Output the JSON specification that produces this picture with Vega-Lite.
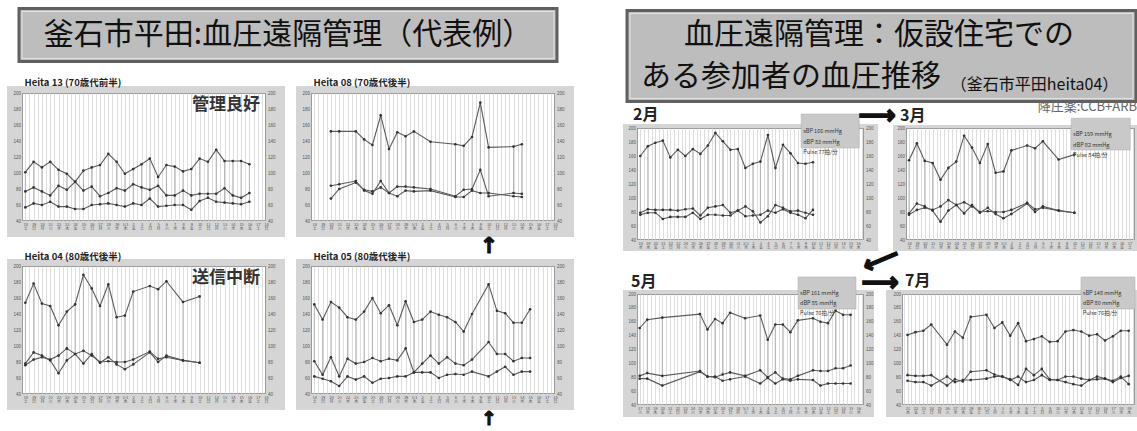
{
  "$schema": "https://vega.github.io/schema/vega-lite/v6.json",
  "background": "white",
  "padding": {"left": 0, "top": 6.5, "right": 0, "bottom": 0},
  "spacing": 15,
  "config": {
    "view": {"stroke": null},
    "font": "Noto Sans CJK JP",
    "axis": {"ticks": false, "domain": false, "grid": false, "labelColor": "#555", "labelPadding": 1.5, "labelOverlap": false, "labelFlush": false, "labelBound": false, "gridColor": "#d0d0d0", "gridWidth": 0.7},
    "axisX": {"labelFontSize": 4, "labelLineHeight": 4.4, "labelFont": "Noto Sans CJK JP", "tickCount": 60},
    "axisY": {"labelFontSize": 4.5, "labelFont": "Liberation Sans"},
    "text": {"font": "Noto Sans CJK JP"}
  },
  "datasets": {
    "h13": [
      {"s":0,"sbp":101,"dbp":57,"pul":77},{"s":1,"sbp":114,"dbp":62,"pul":82},{"s":2,"sbp":107,"dbp":60,"pul":77},
      {"s":3,"sbp":114,"dbp":64,"pul":72},{"s":4,"sbp":104,"dbp":58,"pul":84},{"s":5,"sbp":99,"dbp":58,"pul":79},
      {"s":6,"sbp":89,"dbp":55,"pul":89},{"s":7,"sbp":103,"dbp":55,"pul":78},{"s":8,"sbp":107,"dbp":60,"pul":83},
      {"s":9,"sbp":110,"dbp":61,"pul":71},{"s":10,"sbp":124,"dbp":62,"pul":75},{"s":11,"sbp":114,"dbp":60,"pul":81},
      {"s":12,"sbp":99,"dbp":58,"pul":78},{"s":13,"sbp":105,"dbp":62,"pul":86},{"s":14,"sbp":111,"dbp":60,"pul":82},
      {"s":15,"sbp":118,"dbp":68,"pul":79},{"s":16,"sbp":95,"dbp":58,"pul":84},{"s":17,"sbp":110,"dbp":59,"pul":72},
      {"s":18,"sbp":108,"dbp":60,"pul":72},{"s":19,"sbp":102,"dbp":60,"pul":78},{"s":20,"sbp":105,"dbp":54,"pul":72},
      {"s":21,"sbp":118,"dbp":65,"pul":74},{"s":22,"sbp":114,"dbp":69,"pul":74},{"s":23,"sbp":129,"dbp":64,"pul":74},
      {"s":24,"sbp":115,"dbp":63,"pul":81},{"s":25,"sbp":115,"dbp":62,"pul":72},{"s":26,"sbp":115,"dbp":61,"pul":69},
      {"s":27,"sbp":111,"dbp":64,"pul":75}
    ],
    "h08": [
      {"s":2,"sbp":152,"dbp":84,"pul":68},{"s":3,"sbp":152,"dbp":86,"pul":80},{"s":5,"sbp":152,"dbp":90,"pul":88},
      {"s":6,"sbp":142,"dbp":78,"pul":79},{"s":7,"sbp":135,"dbp":74,"pul":77},{"s":8,"sbp":172,"dbp":90,"pul":82},
      {"s":9,"sbp":130,"dbp":75,"pul":75},{"s":10,"sbp":151,"dbp":83,"pul":71},{"s":11,"sbp":146,"dbp":83,"pul":78},
      {"s":12,"sbp":152,"dbp":82,"pul":77},{"s":14,"sbp":139,"dbp":80,"pul":78},{"s":17,"sbp":136,"dbp":71,"pul":70},
      {"s":18,"sbp":134,"dbp":79,"pul":70},{"s":19,"sbp":145,"dbp":80,"pul":78},{"s":20,"sbp":188,"dbp":104,"pul":75},
      {"s":21,"sbp":132,"dbp":71,"pul":75},{"s":24,"sbp":133,"dbp":75,"pul":71},{"s":25,"sbp":136,"dbp":74,"pul":70}
    ],
    "mar": [
      {"s":0,"sbp":154,"dbp":78,"pul":76},{"s":1,"sbp":178,"dbp":92,"pul":83},{"s":2,"sbp":153,"dbp":88,"pul":86},
      {"s":3,"sbp":150,"dbp":82,"pul":83},{"s":4,"sbp":126,"dbp":66,"pul":88},{"s":5,"sbp":143,"dbp":82,"pul":97},
      {"s":6,"sbp":152,"dbp":90,"pul":90},{"s":7,"sbp":189,"dbp":78,"pul":94},{"s":8,"sbp":172,"dbp":90,"pul":88},
      {"s":9,"sbp":150,"dbp":79,"pul":80},{"s":10,"sbp":177,"dbp":86,"pul":81},{"s":11,"sbp":136,"dbp":77,"pul":80},
      {"s":12,"sbp":138,"dbp":71,"pul":80},{"s":13,"sbp":168,"dbp":77,"pul":83},{"s":15,"sbp":175,"dbp":92,"pul":93},
      {"s":16,"sbp":171,"dbp":80,"pul":84},{"s":17,"sbp":181,"dbp":88,"pul":86},{"s":19,"sbp":155,"dbp":82,"pul":82},
      {"s":21,"sbp":162,"dbp":79,"pul":79}
    ],
    "h05": [
      {"s":0,"sbp":152,"dbp":81,"pul":62},{"s":1,"sbp":133,"dbp":64,"pul":59},{"s":2,"sbp":155,"dbp":86,"pul":56},
      {"s":3,"sbp":148,"dbp":62,"pul":50},{"s":4,"sbp":136,"dbp":84,"pul":62},{"s":5,"sbp":133,"dbp":78,"pul":58},
      {"s":6,"sbp":143,"dbp":80,"pul":62},{"s":7,"sbp":160,"dbp":85,"pul":54},{"s":8,"sbp":141,"dbp":81,"pul":59},
      {"s":9,"sbp":151,"dbp":84,"pul":60},{"s":10,"sbp":126,"dbp":82,"pul":62},{"s":11,"sbp":156,"dbp":97,"pul":62},
      {"s":12,"sbp":130,"dbp":67,"pul":67},{"s":13,"sbp":133,"dbp":78,"pul":67},{"s":14,"sbp":143,"dbp":88,"pul":67},
      {"s":15,"sbp":139,"dbp":78,"pul":60},{"s":16,"sbp":136,"dbp":86,"pul":64},{"s":17,"sbp":130,"dbp":78,"pul":65},
      {"s":18,"sbp":118,"dbp":76,"pul":64},{"s":19,"sbp":140,"dbp":83,"pul":68},{"s":21,"sbp":177,"dbp":105,"pul":62},
      {"s":22,"sbp":144,"dbp":90,"pul":68},{"s":23,"sbp":141,"dbp":90,"pul":74},{"s":24,"sbp":129,"dbp":81,"pul":64},
      {"s":25,"sbp":129,"dbp":85,"pul":68},{"s":26,"sbp":146,"dbp":85,"pul":68}
    ],
    "feb": [
      {"s":0,"sbp":160,"dbp":79,"pul":76},{"s":1,"sbp":174,"dbp":84,"pul":79},{"s":2,"sbp":179,"dbp":83,"pul":79},
      {"s":3,"sbp":182,"dbp":83,"pul":70},{"s":4,"sbp":158,"dbp":83,"pul":73},{"s":5,"sbp":169,"dbp":82,"pul":73},
      {"s":6,"sbp":160,"dbp":84,"pul":73},{"s":7,"sbp":170,"dbp":85,"pul":79},{"s":8,"sbp":163,"dbp":75,"pul":70},
      {"s":9,"sbp":175,"dbp":86,"pul":76},{"s":10,"sbp":193,"dbp":88,"pul":76},{"s":11,"sbp":181,"dbp":90,"pul":75},
      {"s":12,"sbp":169,"dbp":79,"pul":75},{"s":13,"sbp":170,"dbp":82,"pul":82},{"s":14,"sbp":143,"dbp":74,"pul":88},
      {"s":15,"sbp":149,"dbp":75,"pul":81},{"s":16,"sbp":152,"dbp":76,"pul":65},{"s":17,"sbp":190,"dbp":82,"pul":74},
      {"s":18,"sbp":143,"dbp":79,"pul":90},{"s":19,"sbp":176,"dbp":84,"pul":86},{"s":20,"sbp":164,"dbp":79,"pul":81},
      {"s":21,"sbp":150,"dbp":76,"pul":82},{"s":22,"sbp":149,"dbp":71,"pul":79},{"s":23,"sbp":151,"dbp":83,"pul":76}
    ],
    "may": [
      {"s":0,"sbp":151,"dbp":82,"pul":78},{"s":1,"sbp":163,"dbp":86,"pul":78},{"s":3,"sbp":166,"dbp":82,"pul":68},
      {"s":8,"sbp":171,"dbp":89,"pul":88},{"s":9,"sbp":149,"dbp":81,"pul":81},{"s":10,"sbp":164,"dbp":80,"pul":81},
      {"s":11,"sbp":158,"dbp":84,"pul":75},{"s":12,"sbp":173,"dbp":87,"pul":77},{"s":14,"sbp":165,"dbp":82,"pul":81},
      {"s":16,"sbp":169,"dbp":90,"pul":71},{"s":17,"sbp":134,"dbp":80,"pul":79},{"s":18,"sbp":156,"dbp":87,"pul":71},
      {"s":19,"sbp":156,"dbp":78,"pul":77},{"s":20,"sbp":145,"dbp":77,"pul":75},{"s":21,"sbp":162,"dbp":82,"pul":77},
      {"s":23,"sbp":165,"dbp":90,"pul":76},{"s":24,"sbp":160,"dbp":89,"pul":68},{"s":25,"sbp":158,"dbp":89,"pul":71},
      {"s":26,"sbp":176,"dbp":93,"pul":71},{"s":27,"sbp":170,"dbp":93,"pul":71},{"s":28,"sbp":170,"dbp":97,"pul":71}
    ],
    "jul": [
      {"s":0,"sbp":141,"dbp":83,"pul":75},{"s":1,"sbp":145,"dbp":82,"pul":73},{"s":2,"sbp":147,"dbp":82,"pul":73},
      {"s":3,"sbp":156,"dbp":83,"pul":68},{"s":5,"sbp":127,"dbp":68,"pul":81},{"s":6,"sbp":146,"dbp":77,"pul":73},
      {"s":7,"sbp":137,"dbp":74,"pul":76},{"s":8,"sbp":167,"dbp":88,"pul":76},{"s":10,"sbp":170,"dbp":90,"pul":78},
      {"s":11,"sbp":151,"dbp":84,"pul":81},{"s":12,"sbp":159,"dbp":81,"pul":81},{"s":13,"sbp":140,"dbp":76,"pul":77},
      {"s":14,"sbp":158,"dbp":81,"pul":69},{"s":15,"sbp":132,"dbp":73,"pul":92},{"s":16,"sbp":135,"dbp":76,"pul":83},
      {"s":17,"sbp":139,"dbp":83,"pul":92},{"s":18,"sbp":131,"dbp":76,"pul":77},{"s":19,"sbp":132,"dbp":76,"pul":76},
      {"s":20,"sbp":146,"dbp":81,"pul":73},{"s":21,"sbp":148,"dbp":81,"pul":70},{"s":22,"sbp":146,"dbp":78,"pul":68},
      {"s":23,"sbp":140,"dbp":76,"pul":76},{"s":24,"sbp":142,"dbp":77,"pul":81},{"s":25,"sbp":133,"dbp":78,"pul":78},
      {"s":26,"sbp":139,"dbp":75,"pul":73},{"s":27,"sbp":147,"dbp":81,"pul":79},{"s":28,"sbp":147,"dbp":70,"pul":82}
    ]
  },
  "hconcat": [
    {
      "spacing": 7.5,
      "vconcat": [
        {
          "width": 538, "height": 53,
          "layer": [
            {"data": {"values": [{}]}, "mark": {"type": "rect", "color": "#bdbdbd", "stroke": "#606060", "strokeWidth": 3}, "encoding": {"x": {"datum": -0.00558, "scale": {"domain": [0, 1]}, "axis": null}, "x2": {"datum": 0.99442}, "y": {"datum": 0, "scale": {"domain": [0, 1], "reverse": true}, "axis": null}, "y2": {"datum": 1}}},
            {"data": {"values": [{}]}, "mark": {"type": "rect", "filled": false, "stroke": "#e4e4e4", "strokeWidth": 1}, "encoding": {"x": {"datum": 0, "axis": null}, "x2": {"datum": 0.98885}, "y": {"datum": 0.0566, "axis": null}, "y2": {"datum": 0.9434}}},
            {"data": {"values": [{"t": "釜石市平田:血圧遠隔管理（代表例）"}]}, "mark": {"type": "text", "align": "center", "baseline": "middle", "fontSize": 30, "color": "#111"}, "encoding": {"x": {"datum": 0.4944, "axis": null}, "y": {"datum": 0.5, "axis": null}, "text": {"field": "t"}}}
          ]
        },
        {
          "spacing": -30,
          "vconcat": [
            {
              "bounds": "flush",
              "spacing": 45,
              "hconcat": [
                {
                  "width": 244, "height": 128,
                  "view": {"fill": "white", "stroke": "#9a9a9a", "strokeWidth": 2},
                  "data": {"name": "h13"},
                  "layer": [
                    {"data": {"values": [{}]}, "mark": {"type": "rect", "opacity": 0}, "encoding": {"x": {"datum": -2.81, "axis": null}, "x2": {"datum": -0.4}, "y": {"datum": 200, "axis": null}, "y2": {"datum": 226.25}}},
                    {"data": {"values": [{}]}, "mark": {"type": "rect", "color": "#d5d5d5", "strokeWidth": 0}, "encoding": {"x": {"datum": -2.21, "axis": null}, "x2": {"datum": 31.29}, "y": {"datum": 200, "axis": null}, "y2": {"datum": 208.75}}},
                    {"data": {"values": [{}]}, "mark": {"type": "rect", "color": "#d5d5d5", "strokeWidth": 0}, "encoding": {"x": {"datum": -2.21, "axis": null}, "x2": {"datum": 31.29}, "y": {"datum": 20, "axis": null}, "y2": {"datum": 40}}},
                    {"data": {"values": [{}]}, "mark": {"type": "rect", "color": "#d5d5d5", "strokeWidth": 0}, "encoding": {"x": {"datum": -2.21, "axis": null}, "x2": {"datum": -0.4}, "y": {"datum": 40, "axis": null}, "y2": {"datum": 200}}},
                    {"data": {"values": [{}]}, "mark": {"type": "rect", "color": "#d5d5d5", "strokeWidth": 0}, "encoding": {"x": {"datum": 29, "axis": null}, "x2": {"datum": 31.29}, "y": {"datum": 40, "axis": null}, "y2": {"datum": 200}}},
                    {"data": {"values": [{"t": "Heita 13 (70歳代前半)"}]}, "mark": {"type": "text", "align": "left", "baseline": "middle", "fontSize": 9.5, "fontWeight": "bold", "color": "#222"}, "encoding": {"x": {"datum": -0.1, "axis": null}, "y": {"datum": 212.5, "axis": null}, "text": {"field": "t"}}},
                    {"mark": {"type": "rule", "color": "#a5a5a5", "strokeWidth": 0.8}, "encoding": {"x": {"field": "s", "type": "quantitative", "axis": {"orient": "top", "grid": true, "labels": false, "title": null, "zindex": 0}}, "y": {"field": "sbp", "type": "quantitative", "axis": {"orient": "right", "title": null, "zindex": 1, "values": [40,60,80,100,120,140,160,180,200]}}, "y2": {"field": "dbp"}}},
                    {"transform": [{"fold": ["sbp","dbp","pul"], "as": ["k","v"]}], "mark": {"type": "line", "color": "#5a5a5a", "strokeWidth": 1.1}, "encoding": {"x": {"field": "s", "type": "quantitative", "scale": {"domain": [-0.4, 29], "nice": false, "zero": false}, "axis": {"orient": "bottom", "title": null, "zindex": 1, "labelExpr": "datum.value % 1 ? '' : [date(datetime(2012,1,18+datum.value)) == 1 ? (month(datetime(2012,1,18+datum.value)) + 1) + '/1' : '' + date(datetime(2012,1,18+datum.value)), substring('日月火水木金土', day(datetime(2012,1,18+datum.value)), day(datetime(2012,1,18+datum.value)) + 1)]"}}, "y": {"field": "v", "type": "quantitative", "scale": {"domain": [40, 200], "nice": false, "zero": false}, "axis": {"orient": "left", "title": null, "zindex": 1, "values": [40,60,80,100,120,140,160,180,200]}}, "detail": {"field": "k"}}},
                    {"transform": [{"fold": ["sbp","dbp","pul"], "as": ["k","v"]}], "mark": {"type": "point", "filled": true, "size": 7, "color": "#333", "opacity": 1}, "encoding": {"x": {"field": "s", "type": "quantitative", "axis": null}, "y": {"field": "v", "type": "quantitative", "axis": null}}},
                    {"data": {"values": [{"note": "管理良好"}]}, "mark": {"type": "text", "align": "right", "baseline": "middle", "fontSize": 17, "fontWeight": "bold", "color": "#333"}, "encoding": {"x": {"datum": 28.27, "axis": null}, "y": {"datum": 185.6, "axis": null}, "text": {"field": "note"}}}
                  ]
                },
                {
                  "width": 244, "height": 128,
                  "view": {"fill": "white", "stroke": "#9a9a9a", "strokeWidth": 2},
                  "data": {"name": "h08"},
                  "layer": [
                    {"data": {"values": [{}]}, "mark": {"type": "rect", "opacity": 0}, "encoding": {"x": {"datum": 29, "axis": null}, "x2": {"datum": 33.46}, "y": {"datum": -13.75, "axis": null}, "y2": {"datum": 200}}},
                    {"data": {"values": [{}]}, "mark": {"type": "rect", "color": "#d5d5d5", "strokeWidth": 0}, "encoding": {"x": {"datum": -2.21, "axis": null}, "x2": {"datum": 31.29}, "y": {"datum": 200, "axis": null}, "y2": {"datum": 208.75}}},
                    {"data": {"values": [{}]}, "mark": {"type": "rect", "color": "#d5d5d5", "strokeWidth": 0}, "encoding": {"x": {"datum": -2.21, "axis": null}, "x2": {"datum": 31.29}, "y": {"datum": 20, "axis": null}, "y2": {"datum": 40}}},
                    {"data": {"values": [{}]}, "mark": {"type": "rect", "color": "#d5d5d5", "strokeWidth": 0}, "encoding": {"x": {"datum": -2.21, "axis": null}, "x2": {"datum": -0.4}, "y": {"datum": 40, "axis": null}, "y2": {"datum": 200}}},
                    {"data": {"values": [{}]}, "mark": {"type": "rect", "color": "#d5d5d5", "strokeWidth": 0}, "encoding": {"x": {"datum": 29, "axis": null}, "x2": {"datum": 31.29}, "y": {"datum": 40, "axis": null}, "y2": {"datum": 200}}},
                    {"data": {"values": [{"t": "Heita 08 (70歳代後半)"}]}, "mark": {"type": "text", "align": "left", "baseline": "middle", "fontSize": 9.5, "fontWeight": "bold", "color": "#222"}, "encoding": {"x": {"datum": -0.1, "axis": null}, "y": {"datum": 212.5, "axis": null}, "text": {"field": "t"}}},
                    {"mark": {"type": "rule", "color": "#a5a5a5", "strokeWidth": 0.8}, "encoding": {"x": {"field": "s", "type": "quantitative", "axis": {"orient": "top", "grid": true, "labels": false, "title": null, "zindex": 0}}, "y": {"field": "sbp", "type": "quantitative", "axis": {"orient": "right", "title": null, "zindex": 1, "values": [40,60,80,100,120,140,160,180,200]}}, "y2": {"field": "dbp"}}},
                    {"transform": [{"fold": ["sbp","dbp","pul"], "as": ["k","v"]}], "mark": {"type": "line", "color": "#5a5a5a", "strokeWidth": 1.1}, "encoding": {"x": {"field": "s", "type": "quantitative", "scale": {"domain": [-0.4, 29], "nice": false, "zero": false}, "axis": {"orient": "bottom", "title": null, "zindex": 1, "labelExpr": "datum.value % 1 ? '' : [date(datetime(2012,1,18+datum.value)) == 1 ? (month(datetime(2012,1,18+datum.value)) + 1) + '/1' : '' + date(datetime(2012,1,18+datum.value)), substring('日月火水木金土', day(datetime(2012,1,18+datum.value)), day(datetime(2012,1,18+datum.value)) + 1)]"}}, "y": {"field": "v", "type": "quantitative", "scale": {"domain": [40, 200], "nice": false, "zero": false}, "axis": {"orient": "left", "title": null, "zindex": 1, "values": [40,60,80,100,120,140,160,180,200]}}, "detail": {"field": "k"}}},
                    {"transform": [{"fold": ["sbp","dbp","pul"], "as": ["k","v"]}], "mark": {"type": "point", "filled": true, "size": 7, "color": "#333", "opacity": 1}, "encoding": {"x": {"field": "s", "type": "quantitative", "axis": null}, "y": {"field": "v", "type": "quantitative", "axis": null}}},
                    {"data": {"values": [{"note": "↑"}]}, "mark": {"type": "text", "baseline": "middle", "fontSize": 22, "fontWeight": "bold", "font": "DejaVu Sans", "color": "#111", "stroke": "#111", "strokeWidth": 1}, "encoding": {"x": {"datum": 21.05, "axis": null}, "y": {"datum": 8.75, "axis": null}, "text": {"field": "note"}}}
                  ]
                }
              ]
            },
            {
              "bounds": "flush",
              "spacing": 45,
              "hconcat": [
                {
                  "width": 244, "height": 128,
                  "view": {"fill": "white", "stroke": "#9a9a9a", "strokeWidth": 2},
                  "data": {"name": "mar"},
                  "layer": [
                    {"data": {"values": [{}]}, "mark": {"type": "rect", "opacity": 0}, "encoding": {"x": {"datum": -2.81, "axis": null}, "x2": {"datum": -0.4}, "y": {"datum": 200, "axis": null}, "y2": {"datum": 237.5}}},
                    {"data": {"values": [{}]}, "mark": {"type": "rect", "color": "#d5d5d5", "strokeWidth": 0}, "encoding": {"x": {"datum": -2.21, "axis": null}, "x2": {"datum": 31.29}, "y": {"datum": 200, "axis": null}, "y2": {"datum": 208.75}}},
                    {"data": {"values": [{}]}, "mark": {"type": "rect", "color": "#d5d5d5", "strokeWidth": 0}, "encoding": {"x": {"datum": -2.21, "axis": null}, "x2": {"datum": 31.29}, "y": {"datum": 20, "axis": null}, "y2": {"datum": 40}}},
                    {"data": {"values": [{}]}, "mark": {"type": "rect", "color": "#d5d5d5", "strokeWidth": 0}, "encoding": {"x": {"datum": -2.21, "axis": null}, "x2": {"datum": -0.4}, "y": {"datum": 40, "axis": null}, "y2": {"datum": 200}}},
                    {"data": {"values": [{}]}, "mark": {"type": "rect", "color": "#d5d5d5", "strokeWidth": 0}, "encoding": {"x": {"datum": 29, "axis": null}, "x2": {"datum": 31.29}, "y": {"datum": 40, "axis": null}, "y2": {"datum": 200}}},
                    {"data": {"values": [{"t": "Heita 04 (80歳代後半)"}]}, "mark": {"type": "text", "align": "left", "baseline": "middle", "fontSize": 9.5, "fontWeight": "bold", "color": "#222"}, "encoding": {"x": {"datum": -0.1, "axis": null}, "y": {"datum": 211.5, "axis": null}, "text": {"field": "t"}}},
                    {"mark": {"type": "rule", "color": "#a5a5a5", "strokeWidth": 0.8}, "encoding": {"x": {"field": "s", "type": "quantitative", "axis": {"orient": "top", "grid": true, "labels": false, "title": null, "zindex": 0}}, "y": {"field": "sbp", "type": "quantitative", "axis": {"orient": "right", "title": null, "zindex": 1, "values": [40,60,80,100,120,140,160,180,200]}}, "y2": {"field": "dbp"}}},
                    {"transform": [{"fold": ["sbp","dbp","pul"], "as": ["k","v"]}], "mark": {"type": "line", "color": "#5a5a5a", "strokeWidth": 1.1}, "encoding": {"x": {"field": "s", "type": "quantitative", "scale": {"domain": [-0.4, 29], "nice": false, "zero": false}, "axis": {"orient": "bottom", "title": null, "zindex": 1, "labelExpr": "datum.value % 1 ? '' : [date(datetime(2012,1,18+datum.value)) == 1 ? (month(datetime(2012,1,18+datum.value)) + 1) + '/1' : '' + date(datetime(2012,1,18+datum.value)), substring('日月火水木金土', day(datetime(2012,1,18+datum.value)), day(datetime(2012,1,18+datum.value)) + 1)]"}}, "y": {"field": "v", "type": "quantitative", "scale": {"domain": [40, 200], "nice": false, "zero": false}, "axis": {"orient": "left", "title": null, "zindex": 1, "values": [40,60,80,100,120,140,160,180,200]}}, "detail": {"field": "k"}}},
                    {"transform": [{"fold": ["sbp","dbp","pul"], "as": ["k","v"]}], "mark": {"type": "point", "filled": true, "size": 7, "color": "#333", "opacity": 1}, "encoding": {"x": {"field": "s", "type": "quantitative", "axis": null}, "y": {"field": "v", "type": "quantitative", "axis": null}}},
                    {"data": {"values": [{"note": "送信中断"}]}, "mark": {"type": "text", "align": "right", "baseline": "middle", "fontSize": 17, "fontWeight": "bold", "color": "#333"}, "encoding": {"x": {"datum": 28.27, "axis": null}, "y": {"datum": 185, "axis": null}, "text": {"field": "note"}}}
                  ]
                },
                {
                  "width": 244, "height": 128,
                  "view": {"fill": "white", "stroke": "#9a9a9a", "strokeWidth": 2},
                  "data": {"name": "h05"},
                  "layer": [
                    {"data": {"values": [{}]}, "mark": {"type": "rect", "opacity": 0}, "encoding": {"x": {"datum": 29, "axis": null}, "x2": {"datum": 33.46}, "y": {"datum": 40, "axis": null}, "y2": {"datum": 200}}},
                    {"data": {"values": [{}]}, "mark": {"type": "rect", "color": "#d5d5d5", "strokeWidth": 0}, "encoding": {"x": {"datum": -2.21, "axis": null}, "x2": {"datum": 31.29}, "y": {"datum": 200, "axis": null}, "y2": {"datum": 208.75}}},
                    {"data": {"values": [{}]}, "mark": {"type": "rect", "color": "#d5d5d5", "strokeWidth": 0}, "encoding": {"x": {"datum": -2.21, "axis": null}, "x2": {"datum": 31.29}, "y": {"datum": 20, "axis": null}, "y2": {"datum": 40}}},
                    {"data": {"values": [{}]}, "mark": {"type": "rect", "color": "#d5d5d5", "strokeWidth": 0}, "encoding": {"x": {"datum": -2.21, "axis": null}, "x2": {"datum": -0.4}, "y": {"datum": 40, "axis": null}, "y2": {"datum": 200}}},
                    {"data": {"values": [{}]}, "mark": {"type": "rect", "color": "#d5d5d5", "strokeWidth": 0}, "encoding": {"x": {"datum": 29, "axis": null}, "x2": {"datum": 31.29}, "y": {"datum": 40, "axis": null}, "y2": {"datum": 200}}},
                    {"data": {"values": [{"t": "Heita 05 (80歳代後半)"}]}, "mark": {"type": "text", "align": "left", "baseline": "middle", "fontSize": 9.5, "fontWeight": "bold", "color": "#222"}, "encoding": {"x": {"datum": -0.1, "axis": null}, "y": {"datum": 211.5, "axis": null}, "text": {"field": "t"}}},
                    {"mark": {"type": "rule", "color": "#a5a5a5", "strokeWidth": 0.8}, "encoding": {"x": {"field": "s", "type": "quantitative", "axis": {"orient": "top", "grid": true, "labels": false, "title": null, "zindex": 0}}, "y": {"field": "sbp", "type": "quantitative", "axis": {"orient": "right", "title": null, "zindex": 1, "values": [40,60,80,100,120,140,160,180,200]}}, "y2": {"field": "dbp"}}},
                    {"transform": [{"fold": ["sbp","dbp","pul"], "as": ["k","v"]}], "mark": {"type": "line", "color": "#5a5a5a", "strokeWidth": 1.1}, "encoding": {"x": {"field": "s", "type": "quantitative", "scale": {"domain": [-0.4, 29], "nice": false, "zero": false}, "axis": {"orient": "bottom", "title": null, "zindex": 1, "labelExpr": "datum.value % 1 ? '' : [date(datetime(2012,1,18+datum.value)) == 1 ? (month(datetime(2012,1,18+datum.value)) + 1) + '/1' : '' + date(datetime(2012,1,18+datum.value)), substring('日月火水木金土', day(datetime(2012,1,18+datum.value)), day(datetime(2012,1,18+datum.value)) + 1)]"}}, "y": {"field": "v", "type": "quantitative", "scale": {"domain": [40, 200], "nice": false, "zero": false}, "axis": {"orient": "left", "title": null, "zindex": 1, "values": [40,60,80,100,120,140,160,180,200]}}, "detail": {"field": "k"}}},
                    {"transform": [{"fold": ["sbp","dbp","pul"], "as": ["k","v"]}], "mark": {"type": "point", "filled": true, "size": 7, "color": "#333", "opacity": 1}, "encoding": {"x": {"field": "s", "type": "quantitative", "axis": null}, "y": {"field": "v", "type": "quantitative", "axis": null}}},
                    {"data": {"values": [{"note": "↑"}]}, "mark": {"type": "text", "baseline": "middle", "fontSize": 19, "fontWeight": "bold", "font": "DejaVu Sans", "color": "#111", "stroke": "#111", "strokeWidth": 1}, "encoding": {"x": {"datum": 21.05, "axis": null}, "y": {"datum": 9, "axis": null}, "text": {"field": "note"}}}
                  ]
                }
              ]
            }
          ]
        }
      ]
    },
    {
      "spacing": -7.5,
      "vconcat": [
        {
          "width": 499, "height": 93,
          "layer": [
            {"data": {"values": [{}]}, "mark": {"type": "rect", "color": "#bdbdbd", "stroke": "#606060", "strokeWidth": 3}, "encoding": {"x": {"datum": -0.02004, "scale": {"domain": [0, 1]}, "axis": null}, "x2": {"datum": 1}, "y": {"datum": 0.0215, "scale": {"domain": [0, 1], "reverse": true}, "axis": null}, "y2": {"datum": 1}}},
            {"data": {"values": [{}]}, "mark": {"type": "rect", "filled": false, "stroke": "#e4e4e4", "strokeWidth": 1}, "encoding": {"x": {"datum": -0.01403, "axis": null}, "x2": {"datum": 0.99399}, "y": {"datum": 0.0538, "axis": null}, "y2": {"datum": 0.9677}}},
            {"data": {"values": [{"t": "血圧遠隔管理：仮設住宅での"}]}, "mark": {"type": "text", "align": "center", "baseline": "middle", "fontSize": 30, "color": "#111"}, "encoding": {"x": {"datum": 0.485, "axis": null}, "y": {"datum": 0.285, "axis": null}, "text": {"field": "t"}}},
            {"data": {"values": [{"t": "ある参加者の血圧推移"}]}, "mark": {"type": "text", "align": "left", "baseline": "middle", "fontSize": 30, "color": "#111"}, "encoding": {"x": {"datum": 0.008, "axis": null}, "y": {"datum": 0.737, "axis": null}, "text": {"field": "t"}}},
            {"data": {"values": [{"t": "（釜石市平田heita04）"}]}, "mark": {"type": "text", "align": "left", "baseline": "middle", "fontSize": 16, "color": "#111"}, "encoding": {"x": {"datum": 0.629, "axis": null}, "y": {"datum": 0.823, "axis": null}, "text": {"field": "t"}}}
          ]
        },
        {
          "spacing": -40,
          "vconcat": [
            {
              "bounds": "flush",
              "spacing": 42,
              "hconcat": [
                {
                  "width": 227, "height": 112,
                  "view": {"fill": "white", "stroke": "#9a9a9a", "strokeWidth": 2},
                  "data": {"name": "feb"},
                  "layer": [
                    {"data": {"values": [{}]}, "mark": {"type": "rect", "opacity": 0}, "encoding": {"x": {"datum": -3.91, "axis": null}, "x2": {"datum": -0.44}, "y": {"datum": -35.7, "axis": null}, "y2": {"datum": 242.86}}},
                    {"data": {"values": [{}]}, "mark": {"type": "rect", "color": "#d5d5d5", "strokeWidth": 0}, "encoding": {"x": {"datum": -2.31, "axis": null}, "x2": {"datum": 31.67}, "y": {"datum": 200, "axis": null}, "y2": {"datum": 205.7}}},
                    {"data": {"values": [{}]}, "mark": {"type": "rect", "color": "#d5d5d5", "strokeWidth": 0}, "encoding": {"x": {"datum": -2.31, "axis": null}, "x2": {"datum": 31.67}, "y": {"datum": 24.3, "axis": null}, "y2": {"datum": 40}}},
                    {"data": {"values": [{}]}, "mark": {"type": "rect", "color": "#d5d5d5", "strokeWidth": 0}, "encoding": {"x": {"datum": -2.31, "axis": null}, "x2": {"datum": -0.44}, "y": {"datum": 40, "axis": null}, "y2": {"datum": 200}}},
                    {"data": {"values": [{}]}, "mark": {"type": "rect", "color": "#d5d5d5", "strokeWidth": 0}, "encoding": {"x": {"datum": 29.8, "axis": null}, "x2": {"datum": 31.67}, "y": {"datum": 40, "axis": null}, "y2": {"datum": 200}}},
                    {"mark": {"type": "rule", "color": "#a5a5a5", "strokeWidth": 0.8}, "encoding": {"x": {"field": "s", "type": "quantitative", "axis": {"orient": "top", "grid": true, "labels": false, "title": null, "zindex": 0}}, "y": {"field": "sbp", "type": "quantitative", "axis": {"orient": "right", "title": null, "zindex": 1, "values": [40,60,80,100,120,140,160,180,200]}}, "y2": {"field": "dbp"}}},
                    {"transform": [{"fold": ["sbp","dbp","pul"], "as": ["k","v"]}], "mark": {"type": "line", "color": "#5a5a5a", "strokeWidth": 1.1}, "encoding": {"x": {"field": "s", "type": "quantitative", "scale": {"domain": [-0.44, 29.8], "nice": false, "zero": false}, "axis": {"orient": "bottom", "title": null, "zindex": 1, "labelExpr": "datum.value % 1 ? '' : [date(datetime(2012,0,18+datum.value)) == 1 ? (month(datetime(2012,0,18+datum.value)) + 1) + '/1' : '' + date(datetime(2012,0,18+datum.value)), substring('日月火水木金土', day(datetime(2012,0,18+datum.value)), day(datetime(2012,0,18+datum.value)) + 1)]"}}, "y": {"field": "v", "type": "quantitative", "scale": {"domain": [40, 200], "nice": false, "zero": false}, "axis": {"orient": "left", "title": null, "zindex": 1, "values": [40,60,80,100,120,140,160,180,200]}}, "detail": {"field": "k"}}},
                    {"transform": [{"fold": ["sbp","dbp","pul"], "as": ["k","v"]}], "mark": {"type": "point", "filled": true, "size": 7, "color": "#333", "opacity": 1}, "encoding": {"x": {"field": "s", "type": "quantitative", "axis": null}, "y": {"field": "v", "type": "quantitative", "axis": null}}},
                    {"data": {"values": [{"m": "2月"}]}, "mark": {"type": "text", "align": "left", "baseline": "middle", "fontSize": 16, "fontWeight": "bold", "color": "#222"}, "encoding": {"x": {"datum": -0.97, "axis": null}, "y": {"datum": 217.9, "axis": null}, "text": {"field": "m"}}},
                    {"data": {"values": [{}]}, "mark": {"type": "rect", "color": "#c9c9c9", "stroke": "#aaa", "strokeWidth": 0.5}, "encoding": {"x": {"datum": 21.43, "axis": null}, "x2": {"datum": 29.17}, "y": {"datum": 171.4, "axis": null}, "y2": {"datum": 220}}},
                    {"data": {"values": [{"lines": "sBP 166 mmHg\ndBP 83 mmHg\nPulse 77拍/分"}]}, "mark": {"type": "text", "align": "left", "baseline": "middle", "fontSize": 5.5, "lineHeight": 10.5, "lineBreak": "\n", "color": "#333"}, "encoding": {"x": {"datum": 21.7, "axis": null}, "y": {"datum": 195.7, "axis": null}, "text": {"field": "lines"}}},
                    {"data": {"values": [{"a": "⟶"}]}, "mark": {"type": "text", "baseline": "middle", "fontSize": 26, "fontWeight": "bold", "font": "DejaVu Sans", "color": "#111", "stroke": "#111", "strokeWidth": 1.6}, "encoding": {"x": {"datum": 31.56, "axis": null}, "y": {"datum": 217.1, "axis": null}, "text": {"field": "a"}}}
                  ]
                },
                {
                  "width": 229, "height": 112,
                  "view": {"fill": "white", "stroke": "#9a9a9a", "strokeWidth": 2},
                  "data": {"name": "mar"},
                  "layer": [
                    {"data": {"values": [{}]}, "mark": {"type": "rect", "color": "#d5d5d5", "strokeWidth": 0}, "encoding": {"x": {"datum": -2.03, "axis": null}, "x2": {"datum": 29.59}, "y": {"datum": 200, "axis": null}, "y2": {"datum": 204.3}}},
                    {"data": {"values": [{}]}, "mark": {"type": "rect", "color": "#d5d5d5", "strokeWidth": 0}, "encoding": {"x": {"datum": -2.03, "axis": null}, "x2": {"datum": 29.59}, "y": {"datum": 24.3, "axis": null}, "y2": {"datum": 40}}},
                    {"data": {"values": [{}]}, "mark": {"type": "rect", "color": "#d5d5d5", "strokeWidth": 0}, "encoding": {"x": {"datum": -2.03, "axis": null}, "x2": {"datum": -0.38}, "y": {"datum": 40, "axis": null}, "y2": {"datum": 200}}},
                    {"data": {"values": [{}]}, "mark": {"type": "rect", "color": "#d5d5d5", "strokeWidth": 0}, "encoding": {"x": {"datum": 28.7, "axis": null}, "x2": {"datum": 29.59}, "y": {"datum": 40, "axis": null}, "y2": {"datum": 200}}},
                    {"mark": {"type": "rule", "color": "#a5a5a5", "strokeWidth": 0.8}, "encoding": {"x": {"field": "s", "type": "quantitative", "axis": {"orient": "top", "grid": true, "labels": false, "title": null, "zindex": 0}}, "y": {"field": "sbp", "type": "quantitative", "axis": {"orient": "right", "title": null, "zindex": 1, "labelFontSize": 4, "values": [40,60,80,100,120,140,160,180,200]}}, "y2": {"field": "dbp"}}},
                    {"transform": [{"fold": ["sbp","dbp","pul"], "as": ["k","v"]}], "mark": {"type": "line", "color": "#5a5a5a", "strokeWidth": 1.1}, "encoding": {"x": {"field": "s", "type": "quantitative", "scale": {"domain": [-0.38, 28.7], "nice": false, "zero": false}, "axis": {"orient": "bottom", "title": null, "zindex": 1, "labelExpr": "datum.value % 1 ? '' : [date(datetime(2012,1,18+datum.value)) == 1 ? (month(datetime(2012,1,18+datum.value)) + 1) + '/1' : '' + date(datetime(2012,1,18+datum.value)), substring('日月火水木金土', day(datetime(2012,1,18+datum.value)), day(datetime(2012,1,18+datum.value)) + 1)]"}}, "y": {"field": "v", "type": "quantitative", "scale": {"domain": [40, 200], "nice": false, "zero": false}, "axis": {"orient": "left", "title": null, "zindex": 1, "values": [40,60,80,100,120,140,160,180,200]}}, "detail": {"field": "k"}}},
                    {"transform": [{"fold": ["sbp","dbp","pul"], "as": ["k","v"]}], "mark": {"type": "point", "filled": true, "size": 7, "color": "#333", "opacity": 1}, "encoding": {"x": {"field": "s", "type": "quantitative", "axis": null}, "y": {"field": "v", "type": "quantitative", "axis": null}}},
                    {"data": {"values": [{"m": "3月"}]}, "mark": {"type": "text", "align": "left", "baseline": "middle", "fontSize": 16, "fontWeight": "bold", "color": "#222"}, "encoding": {"x": {"datum": -1.14, "axis": null}, "y": {"datum": 217, "axis": null}, "text": {"field": "m"}}},
                    {"data": {"values": [{}]}, "mark": {"type": "rect", "color": "#c9c9c9", "stroke": "#aaa", "strokeWidth": 0.5}, "encoding": {"x": {"datum": 20.6, "axis": null}, "x2": {"datum": 28.1}, "y": {"datum": 168.6, "axis": null}, "y2": {"datum": 214}}},
                    {"data": {"values": [{"lines": "sBP 159 mmHg\ndBP 82 mmHg\nPulse 84拍/分"}]}, "mark": {"type": "text", "align": "left", "baseline": "middle", "fontSize": 5.5, "lineHeight": 10.5, "lineBreak": "\n", "color": "#333"}, "encoding": {"x": {"datum": 20.84, "axis": null}, "y": {"datum": 191.3, "axis": null}, "text": {"field": "lines"}}},
                    {"data": {"values": [{"d": "降圧薬:CCB+ARB"}]}, "mark": {"type": "text", "align": "right", "baseline": "middle", "fontSize": 13, "color": "#666"}, "encoding": {"x": {"datum": 28.95, "axis": null}, "y": {"datum": 230, "axis": null}, "text": {"field": "d"}}},
                    {"data": {"values": [{"a": "⟶"}]}, "mark": {"type": "text", "baseline": "middle", "fontSize": 26, "fontWeight": "bold", "font": "DejaVu Sans", "color": "#111", "stroke": "#111", "strokeWidth": 1.6, "angle": 157}, "encoding": {"x": {"datum": -3.56, "axis": null}, "y": {"datum": 11.4, "axis": null}, "text": {"field": "a"}}}
                  ]
                }
              ]
            },
            {
              "bounds": "flush",
              "spacing": 38,
              "hconcat": [
                {
                  "width": 227, "height": 111,
                  "view": {"fill": "white", "stroke": "#9a9a9a", "strokeWidth": 2},
                  "data": {"name": "may"},
                  "layer": [
                    {"data": {"values": [{}]}, "mark": {"type": "rect", "opacity": 0}, "encoding": {"x": {"datum": -3.81, "axis": null}, "x2": {"datum": -0.36}, "y": {"datum": 200, "axis": null}, "y2": {"datum": 253.3}}},
                    {"data": {"values": [{}]}, "mark": {"type": "rect", "color": "#d5d5d5", "strokeWidth": 0}, "encoding": {"x": {"datum": -2.22, "axis": null}, "x2": {"datum": 31.11}, "y": {"datum": 200, "axis": null}, "y2": {"datum": 205.8}}},
                    {"data": {"values": [{}]}, "mark": {"type": "rect", "color": "#d5d5d5", "strokeWidth": 0}, "encoding": {"x": {"datum": -2.22, "axis": null}, "x2": {"datum": 31.11}, "y": {"datum": 22.7, "axis": null}, "y2": {"datum": 40}}},
                    {"data": {"values": [{}]}, "mark": {"type": "rect", "color": "#d5d5d5", "strokeWidth": 0}, "encoding": {"x": {"datum": -2.22, "axis": null}, "x2": {"datum": -0.36}, "y": {"datum": 40, "axis": null}, "y2": {"datum": 200}}},
                    {"data": {"values": [{}]}, "mark": {"type": "rect", "color": "#d5d5d5", "strokeWidth": 0}, "encoding": {"x": {"datum": 29.78, "axis": null}, "x2": {"datum": 31.11}, "y": {"datum": 40, "axis": null}, "y2": {"datum": 200}}},
                    {"mark": {"type": "rule", "color": "#a5a5a5", "strokeWidth": 0.8}, "encoding": {"x": {"field": "s", "type": "quantitative", "axis": {"orient": "top", "grid": true, "labels": false, "title": null, "zindex": 0}}, "y": {"field": "sbp", "type": "quantitative", "axis": {"orient": "right", "title": null, "zindex": 1, "values": [40,60,80,100,120,140,160,180,200]}}, "y2": {"field": "dbp"}}},
                    {"transform": [{"fold": ["sbp","dbp","pul"], "as": ["k","v"]}], "mark": {"type": "line", "color": "#5a5a5a", "strokeWidth": 1.1}, "encoding": {"x": {"field": "s", "type": "quantitative", "scale": {"domain": [-0.36, 29.78], "nice": false, "zero": false}, "axis": {"orient": "bottom", "title": null, "zindex": 1, "labelExpr": "datum.value % 1 ? '' : [date(datetime(2012,3,17+datum.value)) == 1 ? (month(datetime(2012,3,17+datum.value)) + 1) + '/1' : '' + date(datetime(2012,3,17+datum.value)), substring('日月火水木金土', day(datetime(2012,3,17+datum.value)), day(datetime(2012,3,17+datum.value)) + 1)]"}}, "y": {"field": "v", "type": "quantitative", "scale": {"domain": [40, 200], "nice": false, "zero": false}, "axis": {"orient": "left", "title": null, "zindex": 1, "values": [40,60,80,100,120,140,160,180,200]}}, "detail": {"field": "k"}}},
                    {"transform": [{"fold": ["sbp","dbp","pul"], "as": ["k","v"]}], "mark": {"type": "point", "filled": true, "size": 7, "color": "#333", "opacity": 1}, "encoding": {"x": {"field": "s", "type": "quantitative", "axis": null}, "y": {"field": "v", "type": "quantitative", "axis": null}}},
                    {"data": {"values": [{"m": "5月"}]}, "mark": {"type": "text", "align": "left", "baseline": "middle", "fontSize": 16, "fontWeight": "bold", "color": "#222"}, "encoding": {"x": {"datum": -1.16, "axis": null}, "y": {"datum": 217.3, "axis": null}, "text": {"field": "m"}}},
                    {"data": {"values": [{}]}, "mark": {"type": "rect", "color": "#c9c9c9", "stroke": "#aaa", "strokeWidth": 0.5}, "encoding": {"x": {"datum": 21.02, "axis": null}, "x2": {"datum": 28.72}, "y": {"datum": 178.4, "axis": null}, "y2": {"datum": 224.5}}},
                    {"data": {"values": [{"lines": "sBP 161 mmHg\ndBP 85 mmHg\nPulse 76拍/分"}]}, "mark": {"type": "text", "align": "left", "baseline": "middle", "fontSize": 5.5, "lineHeight": 10, "lineBreak": "\n", "color": "#333"}, "encoding": {"x": {"datum": 21.29, "axis": null}, "y": {"datum": 201.5, "axis": null}, "text": {"field": "lines"}}},
                    {"data": {"values": [{"a": "⟶"}]}, "mark": {"type": "text", "baseline": "middle", "fontSize": 26, "fontWeight": "bold", "font": "DejaVu Sans", "color": "#111", "stroke": "#111", "strokeWidth": 1.6}, "encoding": {"x": {"datum": 31.91, "axis": null}, "y": {"datum": 215.9, "axis": null}, "text": {"field": "a"}}}
                  ]
                },
                {
                  "width": 233, "height": 111,
                  "view": {"fill": "white", "stroke": "#9a9a9a", "strokeWidth": 2},
                  "data": {"name": "jul"},
                  "layer": [
                    {"data": {"values": [{}]}, "mark": {"type": "rect", "color": "#d5d5d5", "strokeWidth": 0}, "encoding": {"x": {"datum": -2.73, "axis": null}, "x2": {"datum": 29.69}, "y": {"datum": 200, "axis": null}, "y2": {"datum": 205.8}}},
                    {"data": {"values": [{}]}, "mark": {"type": "rect", "color": "#d5d5d5", "strokeWidth": 0}, "encoding": {"x": {"datum": -2.73, "axis": null}, "x2": {"datum": 29.69}, "y": {"datum": 22.7, "axis": null}, "y2": {"datum": 40}}},
                    {"data": {"values": [{}]}, "mark": {"type": "rect", "color": "#d5d5d5", "strokeWidth": 0}, "encoding": {"x": {"datum": -2.73, "axis": null}, "x2": {"datum": -0.7}, "y": {"datum": 40, "axis": null}, "y2": {"datum": 200}}},
                    {"data": {"values": [{}]}, "mark": {"type": "rect", "color": "#d5d5d5", "strokeWidth": 0}, "encoding": {"x": {"datum": 28.8, "axis": null}, "x2": {"datum": 29.69}, "y": {"datum": 40, "axis": null}, "y2": {"datum": 200}}},
                    {"mark": {"type": "rule", "color": "#a5a5a5", "strokeWidth": 0.8}, "encoding": {"x": {"field": "s", "type": "quantitative", "axis": {"orient": "top", "grid": true, "labels": false, "title": null, "zindex": 0}}, "y": {"field": "sbp", "type": "quantitative", "axis": {"orient": "right", "title": null, "zindex": 1, "labelFontSize": 4, "values": [40,60,80,100,120,140,160,180,200]}}, "y2": {"field": "dbp"}}},
                    {"transform": [{"fold": ["sbp","dbp","pul"], "as": ["k","v"]}], "mark": {"type": "line", "color": "#5a5a5a", "strokeWidth": 1.1}, "encoding": {"x": {"field": "s", "type": "quantitative", "scale": {"domain": [-0.7, 28.8], "nice": false, "zero": false}, "axis": {"orient": "bottom", "title": null, "zindex": 1, "labelExpr": "datum.value % 1 ? '' : [date(datetime(2012,5,21+datum.value)) == 1 ? (month(datetime(2012,5,21+datum.value)) + 1) + '/1' : '' + date(datetime(2012,5,21+datum.value)), substring('日月火水木金土', day(datetime(2012,5,21+datum.value)), day(datetime(2012,5,21+datum.value)) + 1)]"}}, "y": {"field": "v", "type": "quantitative", "scale": {"domain": [40, 200], "nice": false, "zero": false}, "axis": {"orient": "left", "title": null, "zindex": 1, "values": [40,60,80,100,120,140,160,180,200]}}, "detail": {"field": "k"}}},
                    {"transform": [{"fold": ["sbp","dbp","pul"], "as": ["k","v"]}], "mark": {"type": "point", "filled": true, "size": 7, "color": "#333", "opacity": 1}, "encoding": {"x": {"field": "s", "type": "quantitative", "axis": null}, "y": {"field": "v", "type": "quantitative", "axis": null}}},
                    {"data": {"values": [{"m": "7月"}]}, "mark": {"type": "text", "align": "left", "baseline": "middle", "fontSize": 16, "fontWeight": "bold", "color": "#222"}, "encoding": {"x": {"datum": -0.32, "axis": null}, "y": {"datum": 218.7, "axis": null}, "text": {"field": "m"}}},
                    {"data": {"values": [{}]}, "mark": {"type": "rect", "color": "#c9c9c9", "stroke": "#aaa", "strokeWidth": 0.5}, "encoding": {"x": {"datum": 21.96, "axis": null}, "x2": {"datum": 28.8}, "y": {"datum": 178.4, "axis": null}, "y2": {"datum": 224.5}}},
                    {"data": {"values": [{"lines": "sBP 148 mmHg\ndBP 80 mmHg\nPulse 76拍/分"}]}, "mark": {"type": "text", "align": "left", "baseline": "middle", "fontSize": 5.5, "lineHeight": 10, "lineBreak": "\n", "color": "#333"}, "encoding": {"x": {"datum": 22.2, "axis": null}, "y": {"datum": 201.5, "axis": null}, "text": {"field": "lines"}}}
                  ]
                }
              ]
            }
          ]
        }
      ]
    }
  ]
}
